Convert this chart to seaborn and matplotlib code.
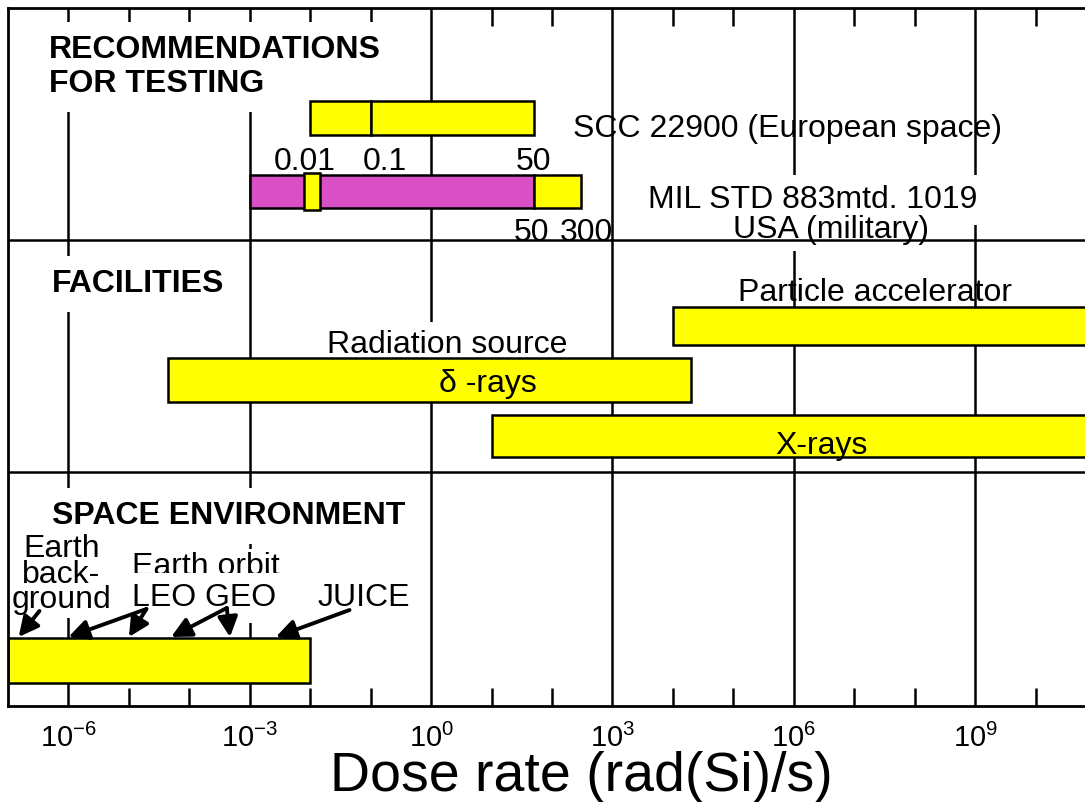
import matplotlib
matplotlib.use("Agg")
import matplotlib.pyplot as plt
from matplotlib.ticker import FixedLocator, FixedFormatter, NullFormatter
import seaborn as sns

# ---- dose-rate ranges, rad(Si)/s ----
scc_ranges = [(0.01, 0.1), (0.1, 50)]
mil_lowrate = (1e-3, 50)
mil_highrate = (50, 300)
mil_marker = (0.008, 0.0145)
accelerator_range = (1e4, 1e11)
gamma_range = (4.5e-5, 2e4)
xray_range = (10, 1e11)
space_range = (1e-7, 1e-2)

scc_marks = [0.01, 0.1, 50]
scc_mark_labels = ["0.01", "0.1", "50"]
mil_marks = [50, 300]
mil_mark_labels = ["50", "300"]

# dose rates pointed at inside the space-environment band
earth_bg_rates = [1.5e-7]
leo_rates = [1e-6, 1e-5]
geo_rates = [5e-5, 4.7e-4]
juice_rates = [2.7e-3]

major_decades = [-6, -3, 0, 3, 6, 9]
major_labels = [r"$10^{-6}$", r"$10^{-3}$", r"$10^{0}$",
                r"$10^{3}$", r"$10^{6}$", r"$10^{9}$"]
minor_decades = [k for k in range(-6, 11) if k % 3 != 0]

# ---- styling ----
sns.set_style("white")
plt.rcParams["font.family"] = ["Liberation Sans", "DejaVu Sans"]
plt.rcParams["text.color"] = "black"
plt.rcParams["axes.labelcolor"] = "black"
plt.rcParams["xtick.color"] = "black"
plt.rcParams["mathtext.fontset"] = "custom"
plt.rcParams["mathtext.rm"] = "Liberation Sans"
plt.rcParams["mathtext.it"] = "Liberation Sans:italic"

YELLOW = "#FFFF00"
MAGENTA = "#D94FC6"
EDGE_LW = 1.8
FS = 23
Z_BOXED = 1.5   # boxed labels sit above the grid but below the bars
WHITE_BOX = dict(boxstyle="square,pad=0.4", fc="white", ec="none")

# vertical layout: rows measured downward (centre, height)
ROWS = {
    "scc": (118, 34),
    "mil": (191.5, 33),
    "mil_marker": (191.5, 37),
    "accel": (326, 38),
    "gamma": (380, 44),
    "xray": (436, 42),
    "space": (660.5, 45),
}
DIVIDERS = [240, 472]

fig = plt.figure(figsize=(10.85, 8.02), dpi=100)
ax = fig.add_axes([8 / 1085, 96 / 802, 1088 / 1085, 698 / 802])
ax.set_xscale("log")
ax.set_xlim(1e-7, 1e11)
ax.set_ylim(706, 8)


def band(lo_hi, row, color):
    lo, hi = lo_hi
    y, h = ROWS[row]
    ax.barh(y, hi - lo, left=lo, height=h, color=color,
            edgecolor="black", linewidth=EDGE_LW, zorder=2)


# recommendations for testing
for seg in scc_ranges:
    band(seg, "scc", YELLOW)
band(mil_lowrate, "mil", MAGENTA)
band(mil_highrate, "mil", YELLOW)
band(mil_marker, "mil_marker", YELLOW)

# facilities
band(accelerator_range, "accel", YELLOW)
band(gamma_range, "gamma", YELLOW)
band(xray_range, "xray", YELLOW)

# space environment
band(space_range, "space", YELLOW)

# value labels along the test-standard bars
for v, s, dx in zip(scc_marks, scc_mark_labels, [-4, 10, 0]):
    ax.annotate(s, xy=(v, 170), xytext=(dx, 0), textcoords="offset points",
                ha="center", va="baseline", fontsize=FS, zorder=3)
for v, s, dx in zip(mil_marks, mil_mark_labels, [-2, 4]):
    ax.annotate(s, xy=(v, 241), xytext=(dx, 0), textcoords="offset points",
                ha="center", va="baseline", fontsize=FS, zorder=3)

# section titles (multi-line texts are anchored on their last baseline)
ax.text(10 ** -6.32, 92, "RECOMMENDATIONS\nFOR TESTING", ha="left",
        va="baseline", fontsize=FS, fontweight="bold", linespacing=1.18,
        bbox=WHITE_BOX, zorder=Z_BOXED)
ax.text(10 ** -6.28, 292, "FACILITIES", ha="left", va="baseline",
        fontsize=FS, fontweight="bold", bbox=WHITE_BOX, zorder=Z_BOXED)
ax.text(10 ** -6.28, 524, "SPACE ENVIRONMENT", ha="left", va="baseline",
        fontsize=FS, fontweight="bold", bbox=WHITE_BOX, zorder=Z_BOXED)

# standard / facility names
ax.text(10 ** 5.89, 137, "SCC 22900 (European space)", ha="center",
        va="baseline", fontsize=FS, zorder=3)
ax.text(10 ** 6.32, 208, "MIL STD 883mtd. 1019", ha="center",
        va="baseline", fontsize=FS, zorder=Z_BOXED,
        bbox=dict(boxstyle="square,pad=0.3", fc="white", ec="none"))
ax.text(10 ** 6.61, 238, "USA (military)", ha="center", va="baseline",
        fontsize=FS, zorder=Z_BOXED,
        bbox=dict(boxstyle="square,pad=0.2", fc="white", ec="none"))
ax.text(10 ** 7.34, 301, "Particle accelerator", ha="center",
        va="baseline", fontsize=FS, zorder=3)
ax.text(10 ** 0.27, 353, "Radiation source", ha="center", va="baseline",
        fontsize=FS, zorder=Z_BOXED,
        bbox=dict(boxstyle="square,pad=0.25", fc="white", ec="none"))
ax.text(10 ** 0.94, 392, "δ -rays", ha="center", va="baseline",
        fontsize=FS, zorder=3)
ax.text(10 ** 6.45, 454, "X-rays", ha="center", va="baseline",
        fontsize=FS, zorder=3)

# space environment labels
ax.text(10 ** -6.12, 608, "Earth\nback-\nground", ha="center",
        va="baseline", fontsize=FS, linespacing=0.8, zorder=Z_BOXED,
        bbox=dict(boxstyle="square,pad=0.1", fc="white", ec="none"))
ax.text(10 ** -3.73, 575, "Earth orbit", ha="center", va="baseline",
        fontsize=FS, zorder=Z_BOXED,
        bbox=dict(boxstyle="square,pad=0.1", fc="white", ec="none"))
ax.text(10 ** -3.75, 606, "LEO GEO", ha="center", va="baseline",
        fontsize=FS, zorder=Z_BOXED,
        bbox=dict(boxstyle="square,pad=0.3", fc="white", ec="none"))
ax.text(10 ** -1.12, 606, "JUICE", ha="center", va="baseline",
        fontsize=FS, zorder=3)

ARROW = dict(arrowstyle="-|>,head_length=0.6,head_width=0.3",
             lw=2.8, color="black", mutation_scale=20,
             shrinkA=0, shrinkB=0)
HEAD_Y = 637
for tail, targets in [((10 ** -6.48, 611), earth_bg_rates),
                      ((10 ** -4.71, 609), leo_rates),
                      ((10 ** -3.38, 608), geo_rates),
                      ((10 ** -1.35, 610), juice_rates)]:
    for v in targets:
        ax.annotate("", xy=(v, HEAD_Y), xytext=tail,
                    arrowprops=ARROW, zorder=4)

# section dividers
for yd in DIVIDERS:
    ax.axhline(yd, color="black", lw=1.8, zorder=4)

# axis, ticks and grid
ax.xaxis.set_major_locator(FixedLocator([10.0 ** k for k in major_decades]))
ax.xaxis.set_major_formatter(FixedFormatter(major_labels))
ax.xaxis.set_minor_locator(FixedLocator([10.0 ** k for k in minor_decades]))
ax.xaxis.set_minor_formatter(NullFormatter())
ax.tick_params(axis="x", which="major", length=0, pad=12.5, labelsize=21,
               labelcolor="black")
ax.tick_params(axis="x", which="minor", direction="in", length=13,
               width=1.8, color="black", top=True, bottom=True)
ax.set_yticks([])
ax.grid(True, which="major", axis="x", color="black", lw=1.8)
ax.grid(False, which="major", axis="y")
ax.set_axisbelow(True)

for side in ["left", "top", "bottom", "right"]:
    ax.spines[side].set_color("black")
    ax.spines[side].set_linewidth(2)

ax.set_xlabel("Dose rate (rad(Si)/s)", fontsize=40)
ax.xaxis.label.set_va("center")
ax.xaxis.set_label_coords(0.527, -0.102)

fig.savefig("out.png", dpi=100)
